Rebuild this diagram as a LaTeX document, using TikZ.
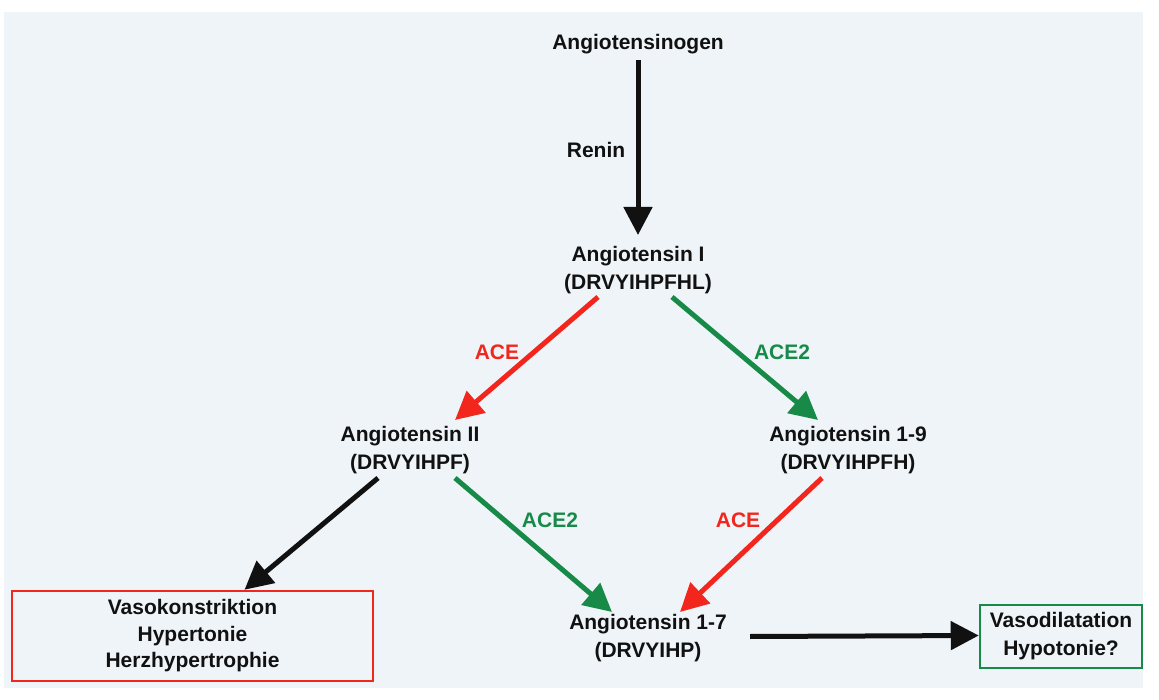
\documentclass[tikz,border=0pt]{standalone}
\usepackage{fontspec}
\setmainfont{Liberation Sans}
\usetikzlibrary{arrows.meta}
\definecolor{bgc}{HTML}{EEF4F8}
\definecolor{redc}{HTML}{F2261C}
\definecolor{greenc}{HTML}{178A48}
\definecolor{txt}{HTML}{111111}
\tikzset{
  lbl/.style={font=\fontsize{21}{28}\selectfont\bfseries, text=txt, align=center, inner sep=0pt},
  enz/.style={font=\fontsize{21}{28}\selectfont\bfseries, inner sep=0pt},
  arr/.style={line width=5pt, -{Triangle[width=28pt,length=28pt]}},
  outbox/.style={lbl, draw, line width=2.5pt, inner sep=0pt}
}
\begin{document}
\begin{tikzpicture}[x=1pt,y=1pt]
\useasboundingbox (0,0) rectangle (1159,-700);
\fill[white] (0,0) rectangle (1159,-700);
\fill[bgc] (4,-12) rectangle (1143,-688);

\node[lbl] (ang) at (638,-44) {Angiotensinogen};
\node[lbl] (a1) at (638,-270) {Angiotensin I\\(DRVYIHPFHL)};
\node[lbl] (a2) at (410,-450) {Angiotensin II\\(DRVYIHPF)};
\node[lbl] (a19) at (848,-450) {Angiotensin 1-9\\(DRVYIHPFH)};
\node[lbl] (a17) at (648,-638) {Angiotensin 1-7\\(DRVYIHP)};
\node[outbox, draw=redc, minimum width=361pt, minimum height=90pt, font=\fontsize{21}{26.5}\selectfont\bfseries] (vk) at (192.5,-636) {Vasokonstriktion\\Hypertonie\\Herzhypertrophie};
\node[outbox, draw=greenc, minimum width=162pt, minimum height=63pt] (vd) at (1061,-636.5) {Vasodilatation\\Hypotonie?};

\draw[arr, txt] ([yshift=-16pt]ang.center) -- ([yshift=35pt]a1.center);
\draw[arr, redc] ([shift={(-40pt,-27pt)}]a1.center) -- ([shift={(45pt,30pt)}]a2.center);
\draw[arr, greenc] ([shift={(34pt,-27pt)}]a1.center) -- ([shift={(-30pt,30pt)}]a19.center);
\draw[arr, txt] ([shift={(-32pt,-28pt)}]a2.center) -- ([xshift=52pt]vk.north);
\draw[arr, greenc] ([shift={(45pt,-28pt)}]a2.center) -- ([shift={(-36pt,26pt)}]a17.center);
\draw[arr, redc] ([shift={(-26pt,-28pt)}]a19.center) -- ([shift={(32pt,26pt)}]a17.center);
\draw[arr, txt] ([shift={(102pt,1.5pt)}]a17.center) -- ([yshift=1pt]vd.west);

\node[enz, text=txt] (renin) at (596,-150) {Renin};
\node[enz, text=redc] (ace1) at (497,-352) {ACE};
\node[enz, text=greenc] (ace21) at (782,-352) {ACE2};
\node[enz, text=greenc] (ace22) at (550,-520) {ACE2};
\node[enz, text=redc] (ace2) at (738,-520) {ACE};
\end{tikzpicture}
\end{document}
